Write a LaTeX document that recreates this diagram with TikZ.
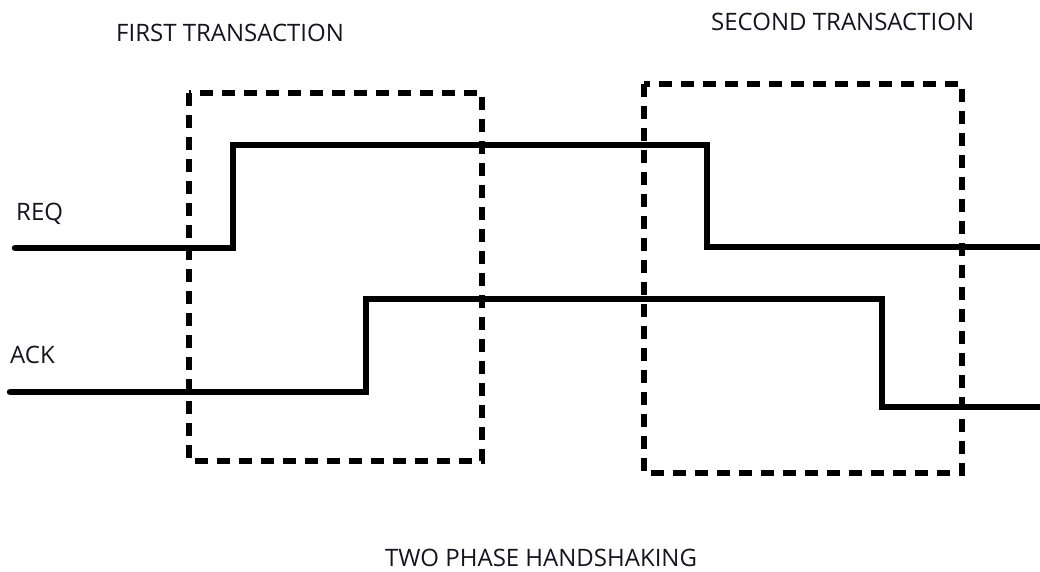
\documentclass[tikz,border=0pt]{standalone}
\usepackage{fontspec}
\setmainfont{Open Sans}
\usepackage{tikz}
\usetikzlibrary{positioning,calc}
\definecolor{ink}{RGB}{20,20,30}

\begin{document}
\begin{tikzpicture}[x=1pt,y=-1pt,
  every node/.style={font=\fontsize{24}{28}\selectfont,text=ink,inner sep=0pt,anchor=base west},
  wave/.style={line width=6.5pt,line cap=round,line join=miter},
  frame/.style={line width=6.5pt,dash pattern=on 13pt off 9pt}]
\useasboundingbox (0,0) rectangle (1040,571);
% labels
\node (first) at (116,41) {FIRST TRANSACTION};
\node (second) at (711,30) {SECOND TRANSACTION};
\node (req) at (16,220) {REQ};
\node (ack) at (10,363) {ACK};
\node (title) at (385,566) {TWO PHASE HANDSHAKING};
% transaction windows
\draw[frame] (189,93) rectangle (482,461);
\draw[frame] (644,84) rectangle (962,473);
% signals
\draw[wave] (15,248) -- (233,248) -- (233,145) -- (707,145) -- (707,247) -- (1045,247);
\draw[wave] (10,392) -- (366,392) -- (366,299) -- (882,299) -- (882,407) -- (1045,407);
\end{tikzpicture}
\end{document}
